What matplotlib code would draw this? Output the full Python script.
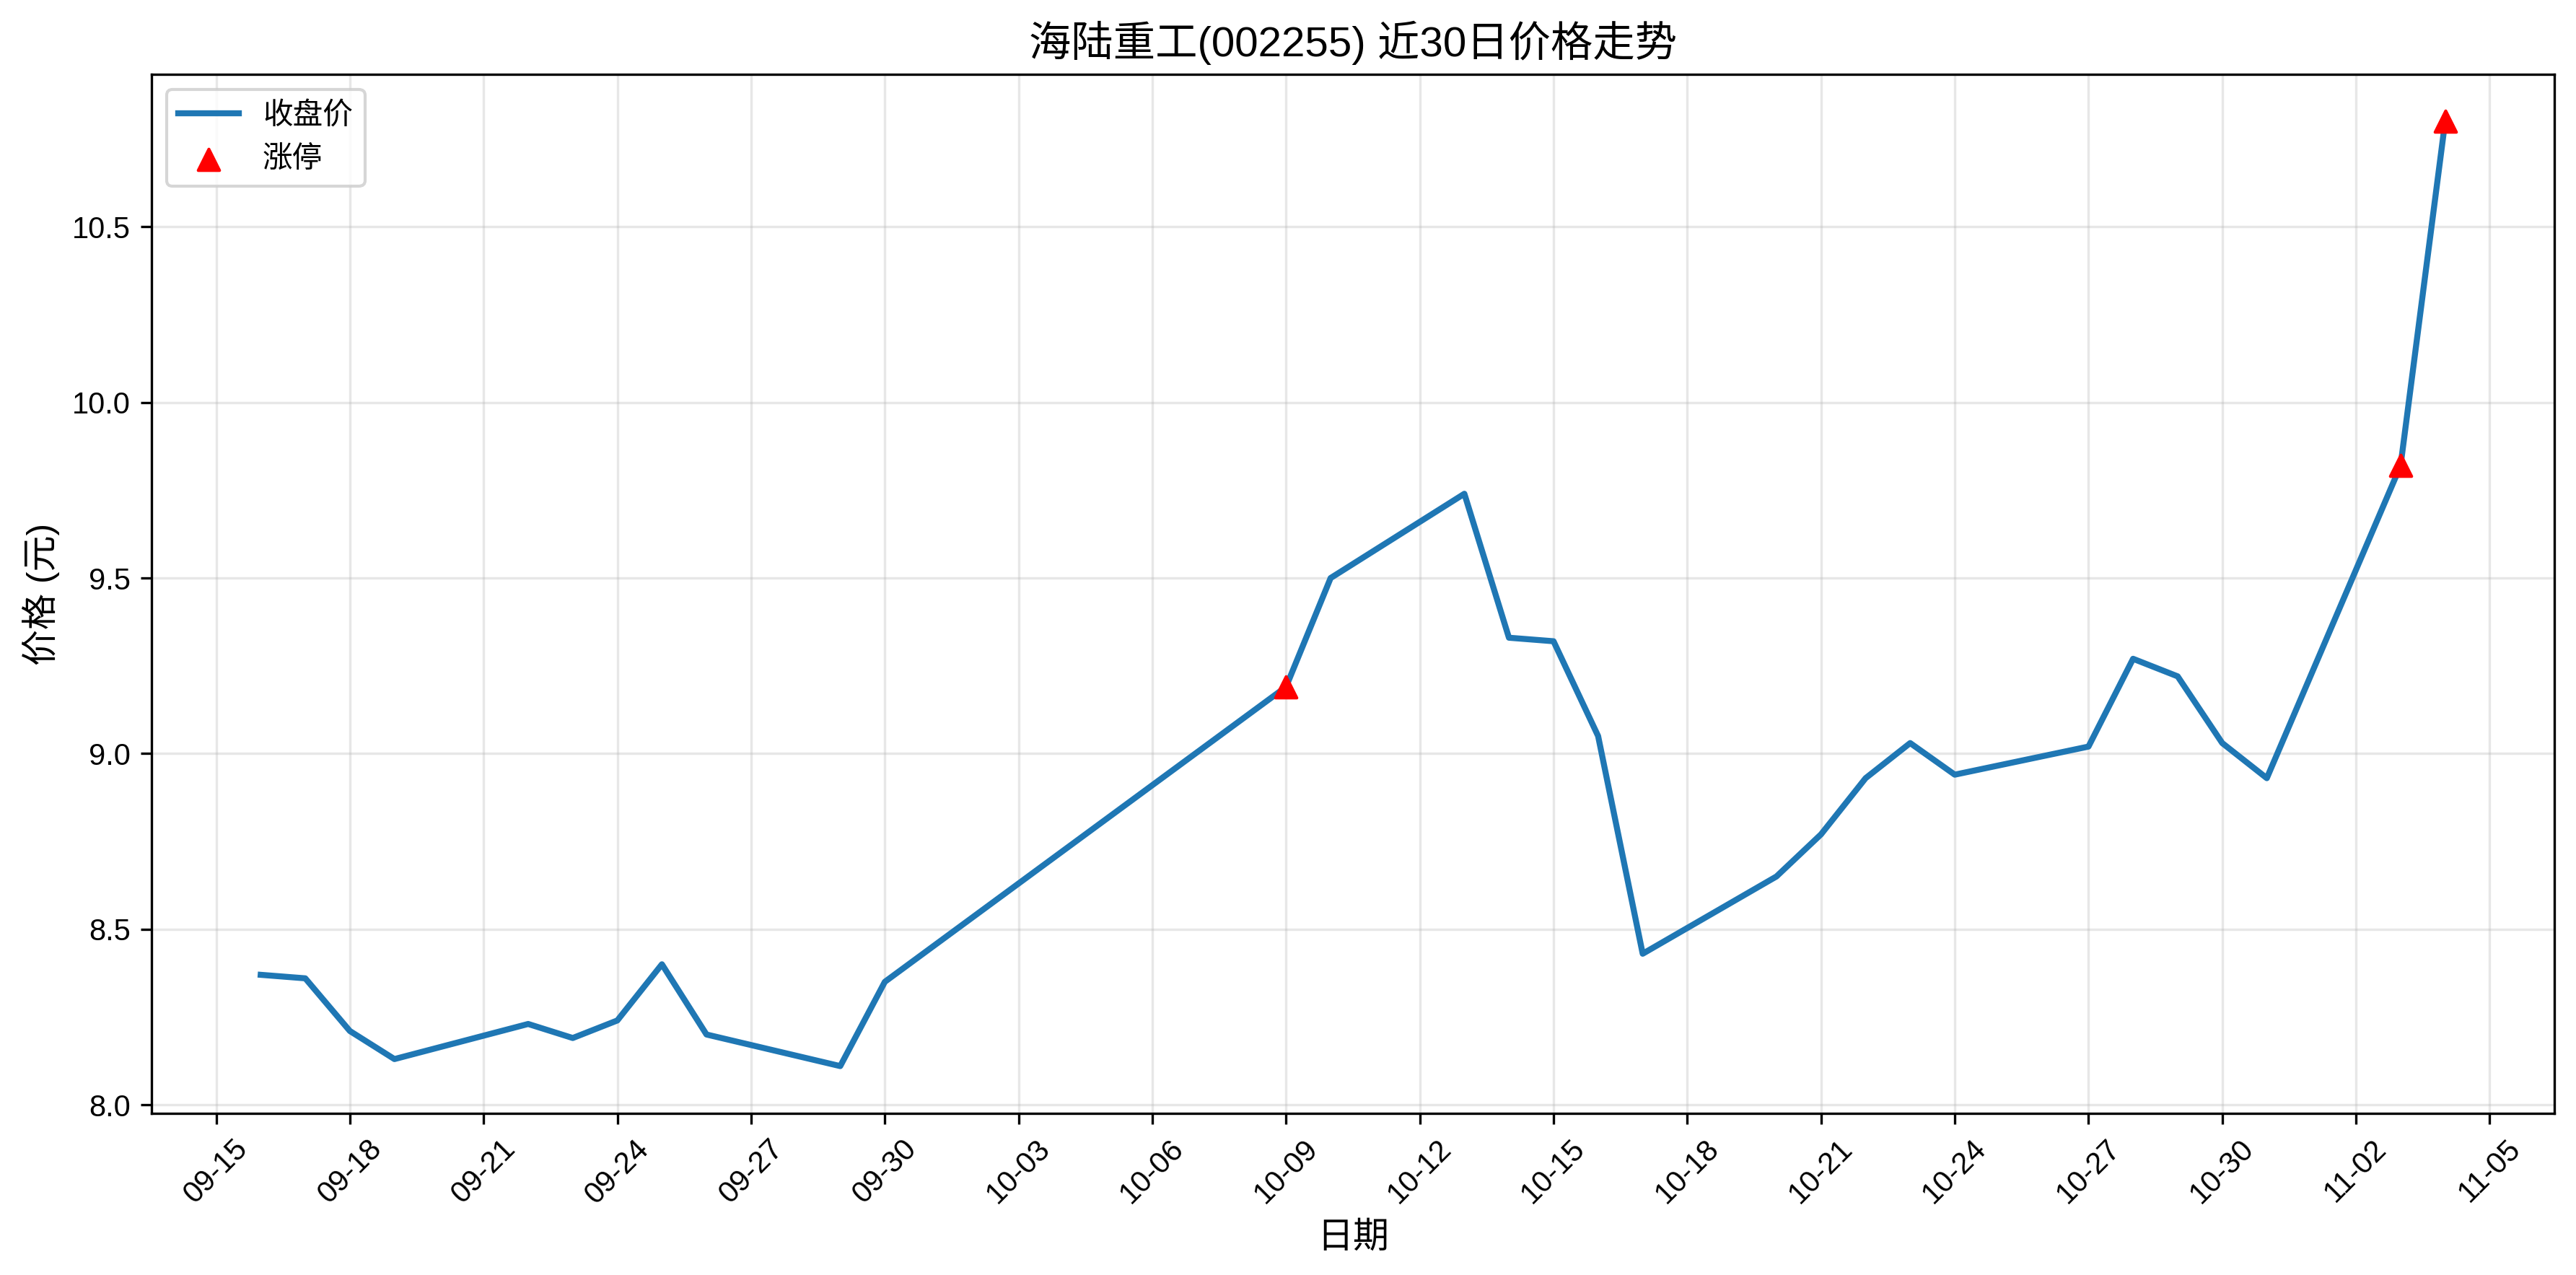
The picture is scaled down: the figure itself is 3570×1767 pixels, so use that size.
import matplotlib
matplotlib.use("Agg")
import matplotlib.pyplot as plt
import matplotlib.dates as mdates
import pandas as pd

plt.rcParams['font.family'] = ['Liberation Sans', 'Noto Sans CJK SC', 'DejaVu Sans']
plt.rcParams['axes.unicode_minus'] = False

dates = ["2025-09-16", "2025-09-17", "2025-09-18", "2025-09-19", "2025-09-22",
         "2025-09-23", "2025-09-24", "2025-09-25", "2025-09-26", "2025-09-29",
         "2025-09-30", "2025-10-09", "2025-10-10", "2025-10-13", "2025-10-14",
         "2025-10-15", "2025-10-16", "2025-10-17", "2025-10-20", "2025-10-21",
         "2025-10-22", "2025-10-23", "2025-10-24", "2025-10-27", "2025-10-28",
         "2025-10-29", "2025-10-30", "2025-10-31", "2025-11-03", "2025-11-04"]
close = [8.37, 8.36, 8.21, 8.13, 8.23,
         8.19, 8.24, 8.40, 8.20, 8.11,
         8.35, 9.19, 9.50, 9.74, 9.33,
         9.32, 9.05, 8.43, 8.65, 8.77,
         8.93, 9.03, 8.94, 9.02, 9.27,
         9.22, 9.03, 8.93, 9.82, 10.80]
limit_up_dates = ["2025-10-09", "2025-11-03", "2025-11-04"]
limit_up_prices = [9.19, 9.82, 10.80]
tick_start, tick_end = "2025-09-15", "2025-11-05"

x = pd.to_datetime(dates)
xl = pd.to_datetime(limit_up_dates)

fig, ax = plt.subplots(figsize=(11.9, 5.89), dpi=300)
ax.plot(x, close, color='#1f77b4', linewidth=2, label='收盘价')
ax.scatter(xl, limit_up_prices, color='red', marker='^', s=50, zorder=5, label='涨停')

ax.set_title('海陆重工(002255) 近30日价格走势', fontsize=14)
ax.set_xlabel('日期', fontsize=12)
ax.set_ylabel('价格 (元)', fontsize=12)
ax.set_xticks(pd.date_range(tick_start, tick_end, freq='3D'))
ax.xaxis.set_major_formatter(mdates.DateFormatter('%m-%d'))
plt.setp(ax.get_xticklabels(), rotation=45)
ax.grid(True, alpha=0.3)
ax.legend(loc='upper left')

fig.subplots_adjust(left=0.0588, right=0.9916, bottom=0.1268, top=0.9417)
fig.savefig('out.png', dpi=300)
